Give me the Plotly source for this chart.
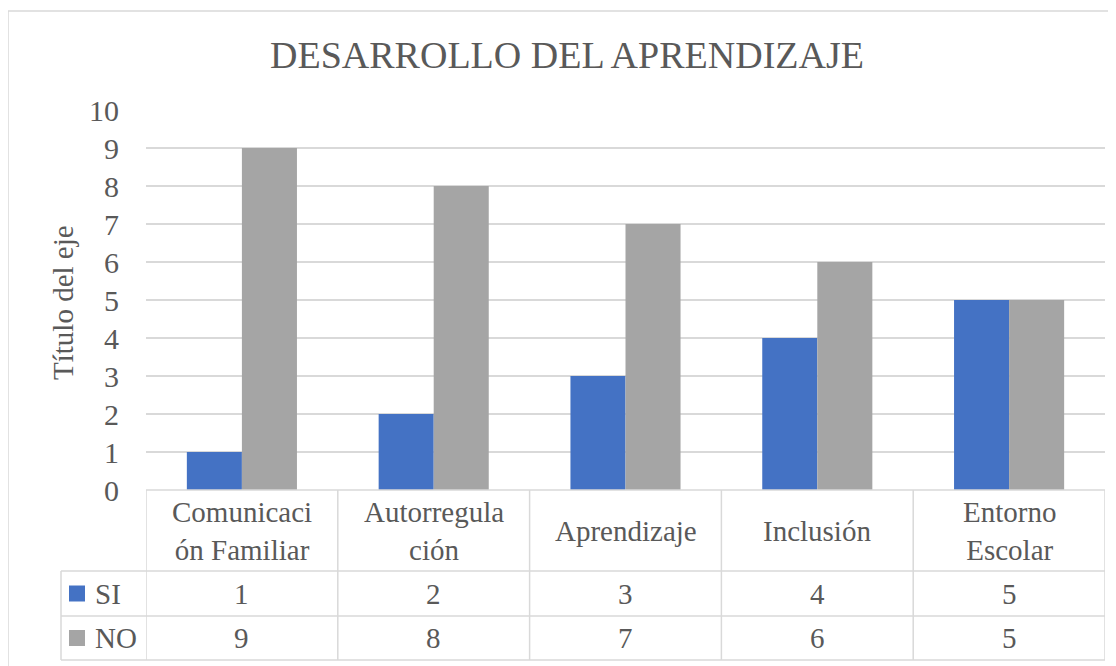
import plotly.graph_objects as go

categories = ["Comunicaci<br>ón Familiar", "Autorregula<br>ción", "Aprendizaje", "Inclusión", "Entorno<br>Escolar"]
si_values = [1, 2, 3, 4, 5]
no_values = [9, 8, 7, 6, 5]
series_names = ["SI", "NO"]
colors = ["#4472C4", "#A5A5A5"]
y_ticks = list(range(0, 11))

FONT = "Liberation Serif"
TXT = "#595959"
GRID = "#D9D9D9"

# page has an 8px body margin; work in reference-pixel coordinates and shift
OFF = 8
W, H = 1116 - OFF, 666 - OFF
PL, PR, PT, PB = 146, 1105, 110, 490  # plot area in reference pixels
L, R, T, B = PL - OFF, W - (PR - OFF), PT - OFF, H - (PB - OFF)
ph = PB - PT
pw = PR - PL

def py(p):  # reference pixel y -> paper
    return (PB - p) / ph

def px(p):  # reference pixel x -> paper
    return (p - PL) / pw

xs = list(range(len(categories)))

fig = go.Figure()
fig.add_trace(go.Bar(x=xs, y=si_values, name=series_names[0], marker_color=colors[0], marker_line_width=0))
fig.add_trace(go.Bar(x=xs, y=no_values, name=series_names[1], marker_color=colors[1], marker_line_width=0))

shapes = []
annotations = []
line = dict(color=GRID, width=1.5)

# outer chart border
shapes.append(dict(type="rect", xref="paper", yref="paper", x0=px(8), x1=px(1130), y0=py(11), y1=py(680), line=dict(color=GRID, width=1.5)))

row_y = [490, 571, 616, 660]
shapes.append(dict(type="line", xref="paper", yref="paper", x0=0, x1=1, y0=py(row_y[0]), y1=py(row_y[0]), line=line))
for r in row_y[1:]:
    shapes.append(dict(type="line", xref="paper", yref="paper", x0=px(61), x1=1, y0=py(r), y1=py(r), line=line))
shapes.append(dict(type="line", xref="paper", yref="paper", x0=px(61), x1=px(61), y0=py(row_y[1]), y1=py(row_y[3]), line=line))
for i in range(len(categories) + 1):
    shapes.append(dict(type="line", xref="x", yref="paper", x0=i - 0.5, x1=i - 0.5, y0=py(row_y[0]), y1=py(row_y[3]), line=line))

for i, c in enumerate(categories):
    annotations.append(dict(x=i, y=py((row_y[0] + row_y[1]) / 2), xref="x", yref="paper", text=c, showarrow=False,
                            font=dict(family=FONT, size=29, color=TXT), xanchor="center", yanchor="middle"))
for r, (name, vals, col) in enumerate(zip(series_names, [si_values, no_values], colors)):
    ymid = (row_y[r + 1] + row_y[r + 2]) / 2
    for i, v in enumerate(vals):
        annotations.append(dict(x=i, y=py(ymid), xref="x", yref="paper", text=str(v), showarrow=False,
                                font=dict(family=FONT, size=29, color=TXT), xanchor="center", yanchor="middle"))
    shapes.append(dict(type="rect", xref="paper", yref="paper", x0=px(69), x1=px(85), y0=py(ymid - 8), y1=py(ymid + 8),
                       fillcolor=col, line=dict(width=0)))
    annotations.append(dict(x=px(93), y=py(ymid), xref="paper", yref="paper", text=name, showarrow=False,
                            font=dict(family=FONT, size=29, color=TXT), xanchor="left", yanchor="middle"))

annotations.append(dict(x=px(63), y=py(303), xref="paper", yref="paper", text="Título del eje", textangle=-90, showarrow=False,
                        font=dict(family=FONT, size=29, color=TXT), xanchor="center", yanchor="middle"))

fig.update_layout(
    width=W, height=H,
    margin=dict(l=L, r=R, t=T, b=B),
    paper_bgcolor="white", plot_bgcolor="white",
    title=dict(text="DESARROLLO DEL APRENDIZAJE", x=((272 + 862) / 2 - OFF) / W, xanchor="center", y=1 - (55 - OFF) / H, yanchor="middle",
               font=dict(family=FONT, size=38, color=TXT)),
    showlegend=False,
    barmode="group", bargap=0.426, bargroupgap=0,
    xaxis=dict(range=[-0.5, len(categories) - 0.5], showticklabels=False, showgrid=False, zeroline=False, showline=False,
               tickvals=xs),
    yaxis=dict(range=[0, 10], tickvals=y_ticks, showgrid=True, gridcolor=GRID, gridwidth=1.5, zeroline=False, showline=False,
               tickfont=dict(family=FONT, size=30, color=TXT), ticks="", ticklabelstandoff=26),
    shapes=shapes, annotations=annotations,
)

fig.write_html("out.html")
